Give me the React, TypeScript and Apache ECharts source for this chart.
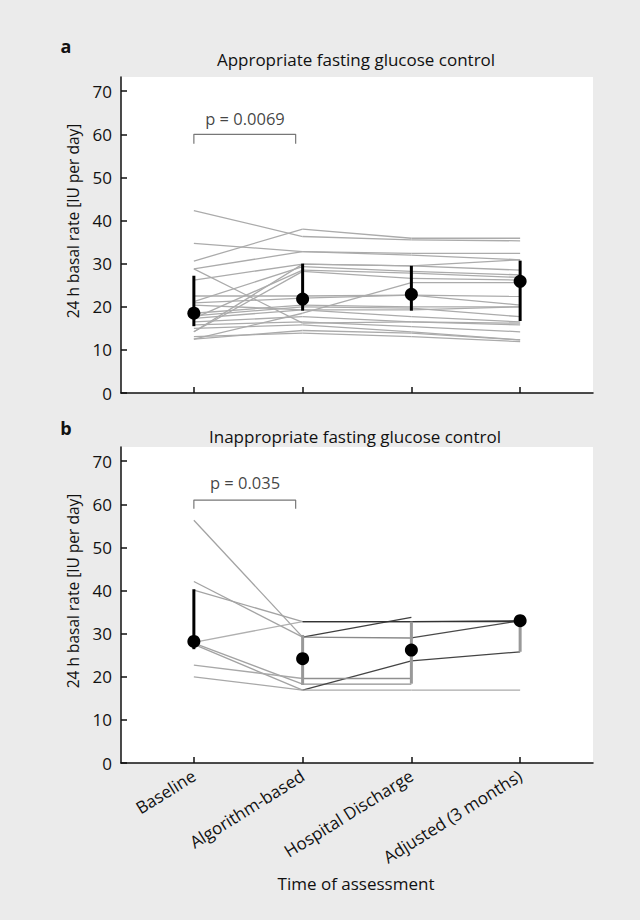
import React, { useEffect, useRef } from "react";
import * as echarts from "echarts";

const categories = ["Baseline", "Algorithm-based", "Hospital Discharge", "Adjusted (3 months)"];
const yTickValues = [0, 10, 20, 30, 40, 50, 60, 70];

// Panel a: individual patients (Baseline, Algorithm, Discharge, Adjusted)
const subjectsA: (number | null)[][] = [
  [42.3, 36.3, 35.5, 35.3],
  [30.6, 38.0, 35.9, 35.9],
  [34.7, 32.8, 32.4, 32.4],
  [28.8, 32.8, 32.0, 30.9],
  [26.2, 29.9, 29.5, 28.5],
  [21.2, 29.3, 28.2, 27.4],
  [17.3, 28.5, 27.8, 26.8],
  [14.2, 28.2, 26.6, 26.2],
  [28.8, 16.2, 16.5, 16.2],
  [12.5, 18.5, 25.6, 25.6],
  [22.5, 22.5, 22.7, 22.4],
  [20.9, 22.0, 22.7, 20.4],
  [18.5, 20.4, 20.0, 20.0],
  [17.9, 20.0, 19.7, 17.7],
  [17.3, 19.3, 17.7, 16.5],
  [16.5, 17.7, 16.5, 15.8],
  [15.8, 16.5, 15.4, 14.2],
  [15.0, 15.8, 14.2, 12.3],
  [13.1, 13.9, 13.1, 11.9],
  [14.2, 29.9, 29.5, 30.9],
  [12.5, 14.5, 13.9, 12.3],
  [20.4, 19.3, 19.3, 20.0],
];
const medianA = [18.5, 21.8, 22.9, 25.9];
const lowA = [15.5, 19.1, 19.1, 16.7];
const highA = [27.2, 30.0, 29.5, 30.7];

// Panel b
const subjectsB: (number | null)[][] = [
  [56.3, 29.2, 33.8, null],
  [42.1, 29.2, 29.0, 33.0],
  [40.1, 32.8, 32.8, 32.8],
  [28.0, 32.8, 32.8, 33.0],
  [27.8, 18.3, 18.3, null],
  [27.5, 16.9, 23.7, 25.8],
  [22.7, 19.6, 19.6, null],
  [20.0, 16.9, 16.9, 16.9],
];
// colour of each segment (Baseline→Algorithm, Algorithm→Discharge, Discharge→Adjusted)
const segmentColorsB: string[][] = [
  ["#a3a3a3", "#3f3f3f", "#3f3f3f"],
  ["#a3a3a3", "#8a8a8a", "#4a4a4a"],
  ["#a3a3a3", "#333333", "#333333"],
  ["#b0b0b0", "#333333", "#333333"],
  ["#a3a3a3", "#8f8f8f", "#8f8f8f"],
  ["#a3a3a3", "#444444", "#444444"],
  ["#a8a8a8", "#8f8f8f", "#8f8f8f"],
  ["#a8a8a8", "#aaaaaa", "#aaaaaa"],
];
const medianB = [28.2, 24.2, 26.2, 33.0];
const lowB = [26.4, 18.1, 18.4, 25.8];
const highB = [40.3, 29.7, 32.8, 33.0];

const pValues = ["p = 0.0069", "p = 0.035"];
const bracketY = [60, 61];
const bracketEnd = [57.8, 59];
const pTextY = [63.6, 65.0];

const FONT = "Open Sans";
const TXT = "#111";

function App() {
  const ref = useRef<HTMLDivElement>(null);
  useEffect(() => {
    document.body.style.margin = "0";
    document.body.style.background = "#ebebeb";
    if (!ref.current) return;
    const chart = echarts.init(ref.current, null, { renderer: "svg" });

    const grids = [
      { left: 121, top: 77, width: 472, height: 316 },
      { left: 121, top: 447, width: 472, height: 316 },
    ].map((g) => ({ ...g, show: true, backgroundColor: "#ffffff", borderWidth: 0 }));

    const xAxes = [0, 1].map((i) => ({
      gridIndex: i,
      type: "value",
      min: -0.67,
      max: 3.67,
      axisLine: { show: true, onZero: false, lineStyle: { color: "#111", width: 1.5 } },
      axisTick: {
        show: true,
        inside: true,
        length: 6,
        customValues: [0, 1, 2, 3],
        lineStyle: { color: "#111", width: 1.5 },
      },
      axisLabel:
        i === 1
          ? {
              show: true,
              customValues: [0, 1, 2, 3],
              formatter: (v: number) => categories[Math.round(v)],
              rotate: 32,
              fontSize: 17,
              fontFamily: FONT,
              color: TXT,
              margin: 11,
            }
          : { show: false },
      splitLine: { show: false },
    }));

    const yAxes = [0, 1].map((i) => ({
      gridIndex: i,
      type: "value",
      min: 0,
      max: 73.3,
      axisLine: { show: true, onZero: false, lineStyle: { color: "#111", width: 1.5 } },
      axisTick: {
        show: true,
        inside: true,
        length: 6,
        customValues: yTickValues,
        lineStyle: { color: "#111", width: 1.5 },
      },
      axisLabel: {
        customValues: yTickValues,
        fontSize: 17,
        fontFamily: FONT,
        color: TXT,
        margin: 9,
      },
      splitLine: { show: false },
    }));

    const series: any[] = [];
    const addPanel = (
      i: number,
      subjects: (number | null)[][],
      segColor: (k: number, t: number) => string,
      median: number[],
      low: number[],
      high: number[],
      barColor: (k: number) => string
    ) => {
      subjects.forEach((s, k) => {
        for (let t = 0; t < s.length - 1; t++) {
          const a = s[t];
          const b = s[t + 1];
          if (a === null || b === null) continue;
          series.push({
            type: "line",
            xAxisIndex: i,
            yAxisIndex: i,
            data: [
              [t, a],
              [t + 1, b],
            ],
            symbol: "none",
            silent: true,
            z: 2,
            lineStyle: { color: segColor(k, t), width: 1.3 },
          });
        }
      });
      series.push({
        type: "custom",
        xAxisIndex: i,
        yAxisIndex: i,
        z: 4,
        encode: { x: 0, y: [1, 2] },
        data: categories.map((_, k) => [k, low[k], high[k]]),
        renderItem: (params: any, api: any) => {
          const x = api.value(0);
          const p1 = api.coord([x, api.value(1)]);
          const p2 = api.coord([x, api.value(2)]);
          return {
            type: "line",
            shape: { x1: p1[0], y1: p1[1], x2: p2[0], y2: p2[1] },
            style: { stroke: barColor(params.dataIndex), lineWidth: 3 },
          };
        },
      });
      series.push({
        type: "scatter",
        xAxisIndex: i,
        yAxisIndex: i,
        z: 5,
        symbolSize: 13,
        itemStyle: { color: "#000", opacity: 1 },
        data: median.map((m, k) => [k, m]),
      });
      series.push({
        type: "line",
        xAxisIndex: i,
        yAxisIndex: i,
        symbol: "none",
        z: 3,
        lineStyle: { color: "#777", width: 1.2 },
        data: [
          [0, bracketEnd[i]],
          [0, bracketY[i]],
          [0.936, bracketY[i]],
          [0.936, bracketEnd[i]],
        ],
      });
      series.push({
        type: "scatter",
        xAxisIndex: i,
        yAxisIndex: i,
        symbolSize: 0,
        data: [[0.47, pTextY[i]]],
        label: {
          show: true,
          position: "inside",
          formatter: pValues[i],
          fontSize: 16.5,
          fontFamily: FONT,
          color: TXT,
        },
      });
    };

    addPanel(0, subjectsA, () => "#ababab", medianA, lowA, highA, () => "#000");
    addPanel(1, subjectsB, (k, t) => segmentColorsB[k][t], medianB, lowB, highB, (k) => (k === 0 ? "#000" : "#999"));

    const text = (t: string, x: number, y: number, opts: any = {}) => ({
      type: "text",
      x,
      y,
      rotation: opts.rotation || 0,
      style: {
        text: t,
        fontSize: opts.fontSize || 17,
        fontFamily: FONT,
        fontWeight: opts.fontWeight || "normal",
        fill: TXT,
        textAlign: "center",
        textVerticalAlign: "middle",
      },
    });

    chart.setOption({
      animation: false,
      backgroundColor: "#ebebeb",
      grid: grids,
      xAxis: xAxes,
      yAxis: yAxes,
      series,
      graphic: [
        text("a", 66, 46, { fontWeight: "bold", fontSize: 18 }),
        text("b", 66, 428, { fontWeight: "bold", fontSize: 18 }),
        text("Appropriate fasting glucose control", 356, 59),
        text("Inappropriate fasting glucose control", 355, 436),
        text("24 h basal rate [IU per day]", 73, 221, { rotation: Math.PI / 2, fontSize: 15.5 }),
        text("24 h basal rate [IU per day]", 73, 591, { rotation: Math.PI / 2, fontSize: 15.5 }),
        text("Time of assessment", 356, 883),
      ],
    });
    return () => chart.dispose();
  }, []);
  return <div ref={ref} style={{ width: 640, height: 920 }} />;
}

export default App;
